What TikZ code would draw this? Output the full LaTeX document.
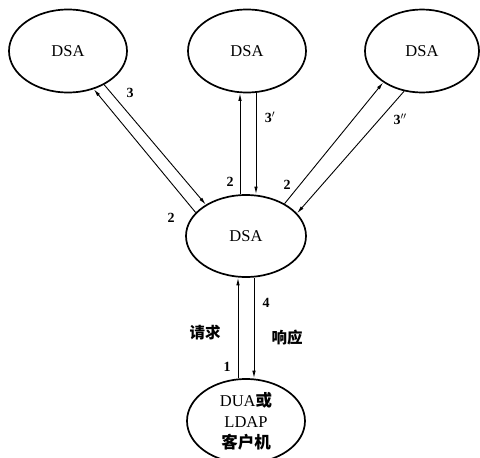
\documentclass[tikz,border=0pt]{standalone}
\usepackage{fontspec}
\setmainfont{Liberation Serif}
\newfontfamily\cjk{Noto Sans CJK SC}
\usetikzlibrary{shapes.geometric,arrows.meta}
\begin{document}
\begin{tikzpicture}[x=1pt,y=-1pt,
  agent/.style={ellipse,draw,line width=1.7pt,inner sep=0pt,
    minimum width=118pt,minimum height=83pt,
    font=\fontsize{16.5}{18}\selectfont},
  msg/.style={line width=0.9pt,-{Latex[length=7.5pt,width=3.5pt]}},
  num/.style={font=\bfseries\fontsize{14}{16}\selectfont,inner sep=0pt},
  zh/.style={font=\cjk\bfseries\fontsize{15.5}{17}\selectfont,inner sep=0pt}]
\useasboundingbox (0,0) rectangle (480,458);

% directory system agents and the client
\node[agent] (tl) at (68,51) {DSA};
\node[agent] (tm) at (247,51) {DSA};
\node[agent,minimum width=114pt] (tr) at (422,51) {DSA};
\node[agent,minimum width=120pt,minimum height=82pt] (c) at (246,236) {DSA};
\node[agent,minimum height=84pt,align=center,
  font=\fontsize{16.5}{21}\selectfont] (b) at (246,421)
  {DUA{\cjk\bfseries 或}\\LDAP\\{\cjk\bfseries 客户机}};

% chained requests and replies
\draw[msg] (c.155) -- (tl.-56);
\draw[msg] (tl.-43) -- (c.142);
\draw[msg] ([xshift=-6pt]c.north) -- ([xshift=-6pt]c.north |- tm.south);
\draw[msg] ([xshift=10pt]c.north |- tm.south) -- ([xshift=10pt]c.north);
\draw[msg] (c.40) -- (tr.-141);
\draw[msg] (tr.-114) -- (c.24);

% client request and response
\draw[msg] ([xshift=-8pt]b.north) -- ([xshift=-8pt]b.north |- c.south);
\draw[msg] ([xshift=8pt]c.south) -- ([xshift=8pt]c.south |- b.north);

% step numbers
\node[num] (n3a) at (130,93) {3};
\node[num] (n2a) at (171,218) {2};
\node[num] (n2b) at (230,182) {2};
\node[num] (n3b) at (270,117) {3$'$};
\node[num] (n2c) at (287,185) {2};
\node[num] (n3c) at (400,119) {3$''$};
\node[num] (n4) at (266,303) {4};
\node[num] (n1) at (227,367) {1};
\node[zh] (req) at (205,333) {请求};
\node[zh] (resp) at (287,338) {响应};
\end{tikzpicture}
\end{document}
